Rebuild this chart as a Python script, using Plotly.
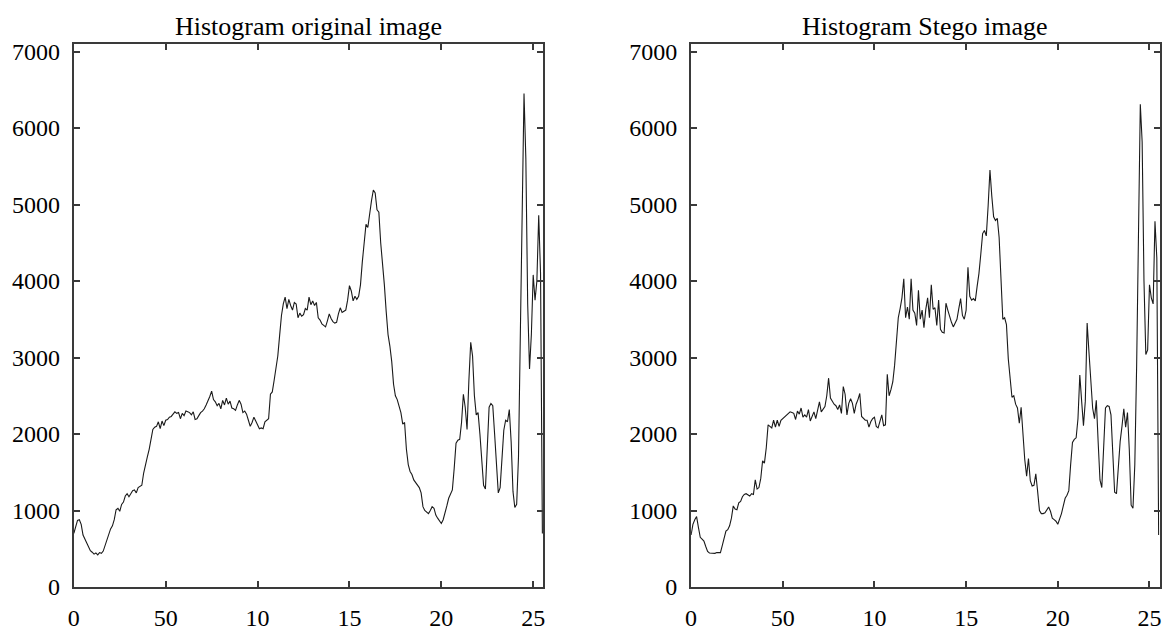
import plotly.graph_objects as go

# Grey-level bins 0..255
bins = list(range(256))

# Pixel counts per grey level, cover image
hist_original = [
    700, 800, 870, 880, 820, 680, 630, 590, 520, 475,
    455, 430, 445, 420, 450, 440, 470, 545, 610, 680,
    760, 800, 880, 1010, 1030, 990, 1080, 1110, 1190, 1220,
    1180, 1220, 1260, 1270, 1230, 1300, 1320, 1330, 1490, 1620,
    1700, 1800, 1920, 2060, 2090, 2100, 2160, 2070, 2170, 2110,
    2180, 2190, 2220, 2230, 2260, 2290, 2270, 2280, 2200, 2270,
    2240, 2300, 2290, 2280, 2250, 2290, 2190, 2200, 2240, 2280,
    2300, 2330, 2380, 2430, 2490, 2560, 2450, 2420, 2370, 2400,
    2330, 2440, 2380, 2470, 2390, 2430, 2340, 2330, 2310, 2380,
    2440, 2390, 2280, 2300, 2260, 2180, 2100, 2150, 2220, 2170,
    2120, 2070, 2080, 2070, 2160, 2180, 2200, 2520, 2550, 2700,
    2850, 3020, 3290, 3550, 3700, 3790, 3640, 3760, 3680, 3620,
    3720, 3700, 3520, 3580, 3540, 3560, 3640, 3620, 3790, 3690,
    3740, 3680, 3720, 3520, 3490, 3440, 3420, 3400, 3480, 3570,
    3510, 3470, 3450, 3460, 3570, 3650, 3590, 3600, 3620, 3750,
    3940, 3870, 3740, 3800, 3760, 3800, 3950, 4250, 4500, 4740,
    4700, 4900, 5050, 5190, 5150, 4930, 4900, 4500, 4250, 3950,
    3600, 3300, 3150, 2950, 2650, 2500, 2450, 2380, 2280, 2130,
    2150, 1800, 1600, 1510, 1470, 1400, 1370, 1340, 1300, 1230,
    1050, 1000, 980, 960, 1000, 1050, 1030, 940, 900, 870,
    830, 880, 960, 1060, 1160, 1210, 1270, 1550, 1880, 1920,
    1930, 2150, 2520, 2350, 2060, 2700, 3200, 3020, 2500, 2250,
    2280, 2000, 1620, 1330, 1280, 1900, 2350, 2400, 2370, 2000,
    1550, 1230, 1300, 1650, 2050, 2180, 2160, 2320, 1900, 1250,
    1040, 1080, 1700, 3300, 5000, 6450, 5600, 3700, 2850, 3300,
    4080, 3750, 4000, 4860, 4100, 700,
]

# Pixel counts per grey level, stego image
hist_stego = [
    680, 820, 880, 920, 780, 650, 625, 600, 530, 465,
    445, 440, 445, 440, 450, 445, 450, 540, 620, 730,
    750, 800, 900, 1060, 1020, 1010, 1100, 1120, 1180, 1210,
    1220, 1200, 1190, 1220, 1210, 1400, 1280, 1300, 1420, 1650,
    1620, 1820, 2120, 2100, 2080, 2180, 2090, 2180, 2100, 2180,
    2200, 2230, 2240, 2270, 2290, 2280, 2270, 2190, 2300, 2260,
    2340, 2220, 2250, 2220, 2320, 2170, 2240, 2290, 2200, 2300,
    2420, 2290, 2330, 2360, 2500, 2730, 2470, 2430, 2390, 2370,
    2320, 2380, 2270, 2620, 2520, 2250, 2400, 2460, 2400, 2270,
    2390, 2450, 2530, 2230, 2210, 2180, 2180, 2090, 2160, 2200,
    2220, 2100, 2080, 2180, 2250, 2110, 2120, 2780, 2500, 2580,
    2680, 2900, 3250, 3520, 3640, 3780, 4030, 3520, 3660, 3500,
    4030, 3620, 3580, 3420, 3880, 3500, 3620, 3390, 3630, 3780,
    3520, 3950, 3630, 3650, 3420, 3750, 3370, 3330, 3320, 3710,
    3620, 3520, 3460, 3400, 3450, 3500, 3640, 3770, 3550, 3500,
    3620, 4180, 3800, 3750, 3770, 3740, 3930, 4100, 4350, 4620,
    4660, 4590, 4980, 5450, 5110, 4840, 4790, 4820, 4570, 4020,
    3500, 3520, 3430, 2980, 2750, 2480, 2500, 2390, 2340, 2140,
    2350, 1980, 1660, 1450, 1680, 1390, 1320, 1330, 1480, 1250,
    1000, 960, 960, 970, 1000, 1045, 990, 900, 880, 860,
    820, 880, 960, 1060, 1160, 1200, 1260, 1600, 1890, 1930,
    1950, 2200, 2770, 2430, 2110, 2430, 3450, 3070, 2610, 2340,
    2200, 2440, 1900, 1400, 1300, 1800, 2340, 2370, 2360, 2250,
    1830, 1240, 1220, 1580, 1900, 2100, 2330, 2090, 2280, 1790,
    1070, 1030, 1600, 2900, 4500, 6310, 5820, 4000, 3040, 3100,
    3950, 3780, 3700, 4780, 4300, 680,
]

titles = ["Histogram original image", "Histogram Stego image"]

x_tickvals = [0, 50, 100, 150, 200, 250]
x_ticktext = ["0", "50", "10", "15", "20", "25"]
y_tickvals = [0, 1000, 2000, 3000, 4000, 5000, 6000, 7000]
y_ticktext = ["0", "1000", "2000", "3000", "4000", "5000", "6000", "7000"]

W, H = 1171, 635
FONT = "Liberation Serif, Times New Roman, serif"
AXIS_COLOR = "#3a3a3a"

fig = go.Figure()
fig.add_trace(go.Scatter(x=bins, y=hist_original, mode="lines",
                         line=dict(color="#1a1a1a", width=1.1),
                         xaxis="x", yaxis="y", showlegend=False))
fig.add_trace(go.Scatter(x=bins, y=hist_stego, mode="lines",
                         line=dict(color="#1a1a1a", width=1.1),
                         xaxis="x2", yaxis="y2", showlegend=False))

x_domains = [(68.3 / W, 541 / W), (689.8 / W, 1161.5 / W)]
y_domain = ((H - 599) / H, (H - 40) / H)

def x_axis(dom, anchor):
    return dict(domain=list(dom), anchor=anchor, range=[0, 255.5],
                tickvals=x_tickvals, ticktext=x_ticktext,
                ticks="inside", ticklen=6, tickwidth=2, tickcolor=AXIS_COLOR,
                showline=True, linecolor=AXIS_COLOR, linewidth=2, mirror="ticks",
                showgrid=False, zeroline=False, ticklabelstandoff=8,
                tickfont=dict(family=FONT, size=24, color="black"))

def y_axis(anchor):
    return dict(domain=list(y_domain), anchor=anchor, range=[0, 7100],
                tickvals=y_tickvals, ticktext=y_ticktext,
                ticks="inside", ticklen=6, tickwidth=2, tickcolor=AXIS_COLOR,
                showline=True, linecolor=AXIS_COLOR, linewidth=2, mirror="ticks",
                showgrid=False, zeroline=False, ticklabelstandoff=7,
                tickfont=dict(family=FONT, size=24, color="black"))

annotations = []
for (d0, d1), t in zip(x_domains, titles):
    annotations.append(dict(text=t, xref="paper", yref="paper",
                            x=(d0 + d1) / 2, y=(H - 22) / H,
                            xanchor="center", yanchor="middle", showarrow=False,
                            font=dict(family=FONT, size=26, color="black")))

fig.update_layout(
    width=W, height=H,
    margin=dict(l=0, r=0, t=0, b=0),
    paper_bgcolor="white", plot_bgcolor="white",
    xaxis=x_axis(x_domains[0], "y"),
    yaxis=y_axis("x"),
    xaxis2=x_axis(x_domains[1], "y2"),
    yaxis2=y_axis("x2"),
    annotations=annotations,
)

fig.write_html("out.html")
